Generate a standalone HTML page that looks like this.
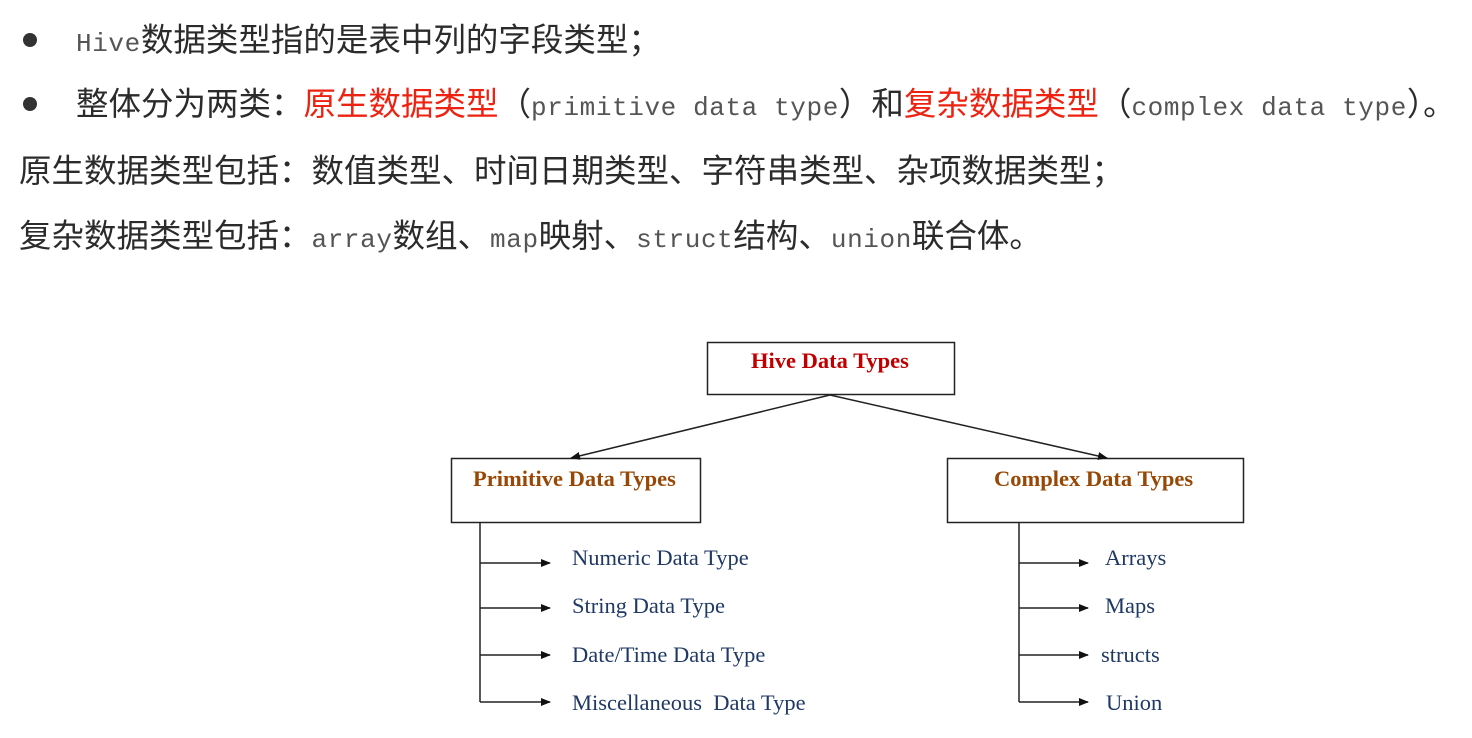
<!DOCTYPE html>
<html><head><meta charset="utf-8"><style>
body{margin:0;width:1472px;height:738px;background:#fff;position:relative;overflow:hidden;font-family:"Liberation Sans","Noto Sans CJK SC",sans-serif;color:#2b2b2b}
.l{position:absolute;white-space:nowrap;font-size:32.5px;line-height:40px}
.m{font-family:"Liberation Mono",monospace;font-size:26px;color:#555;letter-spacing:0.6px}
.r{color:#ee2211}
.dot{position:absolute;width:14px;height:14px;border-radius:50%;background:#333}
.t{position:absolute;white-space:nowrap;font-family:"Liberation Serif",serif;font-size:22.5px}
.b{font-weight:bold}
.n{color:#1f3864}
</style></head><body>
<div class="dot" style="left:23px;top:33px"></div>
<div class="dot" style="left:23px;top:97px"></div>
<div class="l" style="left:76px;top:20px"><span class="m">Hive</span>数据类型指的是表中列的字段类型；</div>
<div class="l" style="left:76px;top:84px">整体分为两类：<span class="r">原生数据类型</span>（<span class="m">primitive data type</span>）和<span class="r">复杂数据类型</span>（<span class="m">complex data type</span>）。</div>
<div class="l" style="left:19px;top:151px">原生数据类型包括：数值类型、时间日期类型、字符串类型、杂项数据类型；</div>
<div class="l" style="left:19px;top:216px">复杂数据类型包括：<span class="m">array</span>数组、<span class="m">map</span>映射、<span class="m">struct</span>结构、<span class="m">union</span>联合体。</div>

<svg style="position:absolute;left:0;top:0" width="1472" height="738">
<defs><marker id="a" markerWidth="10" markerHeight="10" refX="9" refY="5" orient="auto" markerUnits="userSpaceOnUse"><path d="M0,1 L10,5 L0,9 Z" fill="#111"/></marker></defs>
<g fill="none" stroke="#222" stroke-width="1.5">
<rect x="707.5" y="342.5" width="247" height="52"/>
<rect x="451.5" y="458.5" width="249" height="64"/>
<rect x="947.5" y="458.5" width="296" height="64"/>
<line x1="830" y1="395" x2="571" y2="458" marker-end="url(#a)"/>
<line x1="830" y1="395" x2="1107" y2="458" marker-end="url(#a)"/>
<polyline points="480,523 480,702"/>
<line x1="480" y1="563" x2="550" y2="563" marker-end="url(#a)"/>
<line x1="480" y1="608" x2="550" y2="608" marker-end="url(#a)"/>
<line x1="480" y1="655" x2="550" y2="655" marker-end="url(#a)"/>
<line x1="480" y1="702" x2="550" y2="702" marker-end="url(#a)"/>
<polyline points="1019,523 1019,702"/>
<line x1="1019" y1="563" x2="1088" y2="563" marker-end="url(#a)"/>
<line x1="1019" y1="608" x2="1088" y2="608" marker-end="url(#a)"/>
<line x1="1019" y1="655" x2="1088" y2="655" marker-end="url(#a)"/>
<line x1="1019" y1="702" x2="1088" y2="702" marker-end="url(#a)"/>
</g></svg>
<div class="t b" style="left:751px;top:348px;color:#c00000">Hive Data Types</div>
<div class="t b" style="left:473px;top:466px;color:#984806">Primitive Data Types</div>
<div class="t b" style="left:994px;top:466px;color:#984806">Complex Data Types</div>
<div class="t n" style="left:572px;top:545px">Numeric Data Type</div>
<div class="t n" style="left:572px;top:593px">String Data Type</div>
<div class="t n" style="left:572px;top:642px">Date/Time Data Type</div>
<div class="t n" style="left:572px;top:690px">Miscellaneous&nbsp; Data Type</div>
<div class="t n" style="left:1105px;top:545px">Arrays</div>
<div class="t n" style="left:1105px;top:593px">Maps</div>
<div class="t n" style="left:1101px;top:642px">structs</div>
<div class="t n" style="left:1106px;top:690px">Union</div>
</body></html>
